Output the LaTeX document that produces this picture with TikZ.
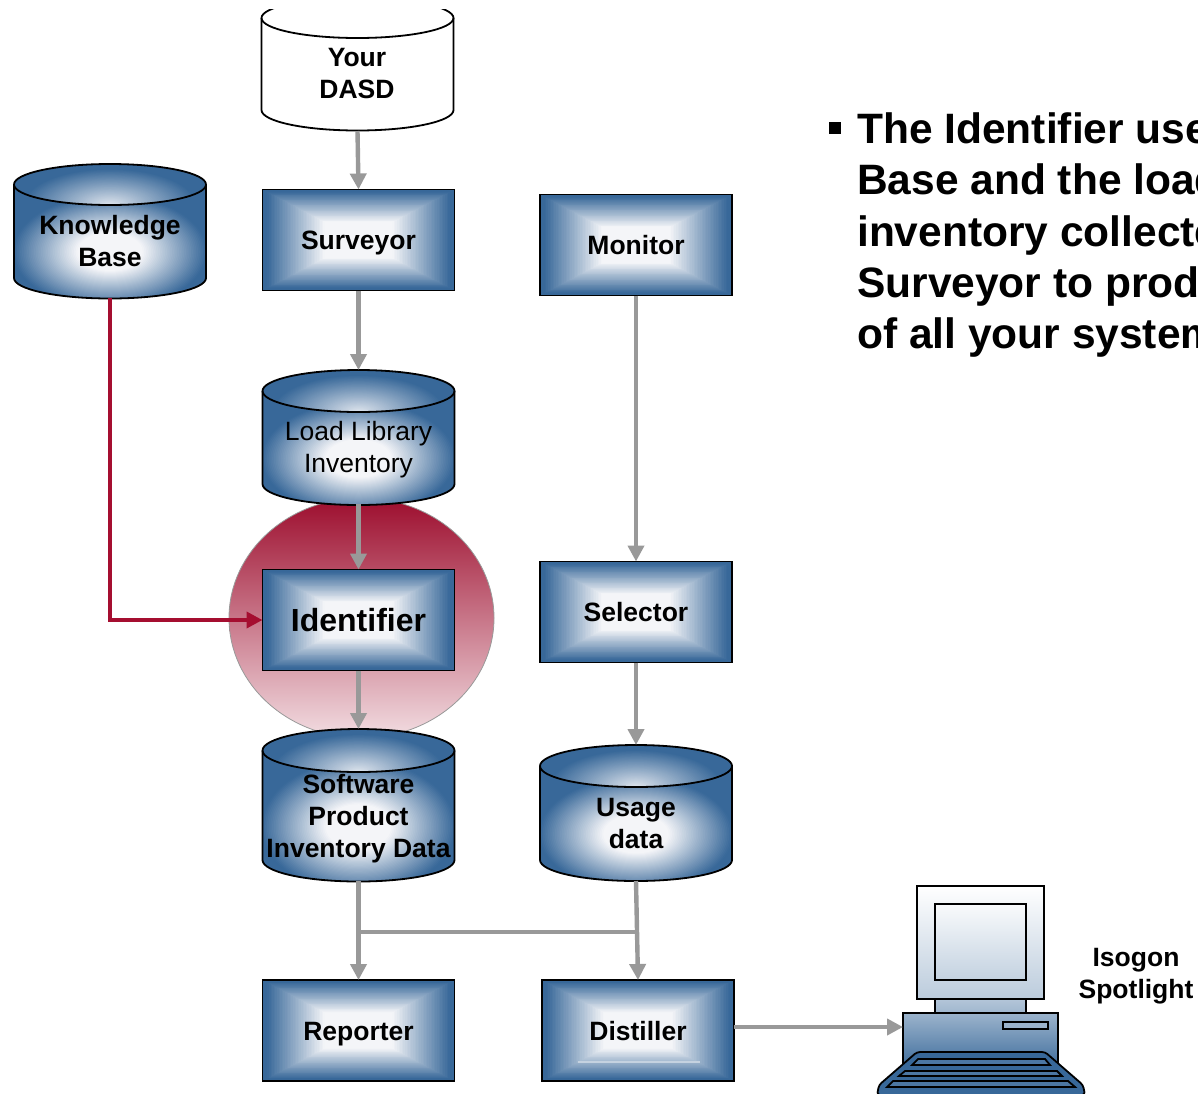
\documentclass[tikz,border=0pt]{standalone}
\usepackage{fontspec}
\setmainfont{Liberation Sans}
\usetikzlibrary{arrows.meta,shapes.geometric}
\definecolor{bbase}{HTML}{386899}
\definecolor{blite}{HTML}{F4F5F8}
\definecolor{flowgray}{HTML}{999999}
\definecolor{flowred}{HTML}{A50E30}
\newcommand\gradbox[4]{%
  \fill[bbase] (#1,#2) rectangle (#3,#4);
  \foreach \i in {1,...,60}{%
    \pgfmathsetmacro\sc{1-\i/60}
    \pgfmathsetmacro\mx{max(0,min(100,100*(\sc-0.36)/0.60))}
    \pgfmathsetmacro\cxx{(#1+#3)/2}
    \pgfmathsetmacro\cyy{(#2+#4)/2}
    \pgfmathsetmacro\hw{(#3-#1)/2*\sc}
    \pgfmathsetmacro\hh{(#4-#2)/2*\sc}
    \fill[bbase!\mx!blite] (\cxx-\hw,\cyy-\hh) rectangle (\cxx+\hw,\cyy+\hh);
  }%
}
% x1 x2 ycentre ry yside
\newcommand\gradcyl[5]{%
  \pgfmathsetmacro\rxx{(#2-#1)/2}
  \pgfmathsetmacro\cxx{(#1+#2)/2}
  \begin{scope}
    \clip (#1,#3) -- (#1,#5) arc[start angle=180,end angle=0,x radius=\rxx,y radius=#4] -- (#2,#3) -- cycle;
    \fill[bbase] (#1,#3-#4) rectangle (#2,#5+#4);
    \foreach \i in {1,...,60}{%
      \pgfmathsetmacro\sc{1-\i/60}
      \pgfmathsetmacro\mx{max(0,min(100,100*(\sc-0.32)/0.62))}
      \pgfmathsetmacro\yy{(#3+#4+#5+#4)/2}
      \pgfmathsetmacro\ax{\rxx*1.08*\sc}
      \pgfmathsetmacro\ay{(#5+#4-#3-#4)/2*1.3*\sc}
      \fill[bbase!\mx!blite] (\cxx,\yy) ellipse[x radius=\ax,y radius=\ay];
    }
  \end{scope}
  \begin{scope}
    \clip (\cxx,#3) ellipse[x radius=\rxx,y radius=#4];
    \fill[bbase] (#1,#3-#4) rectangle (#2,#3+#4);
    \foreach \i in {1,...,60}{%
      \pgfmathsetmacro\sc{1-\i/60}
      \pgfmathsetmacro\mx{max(0,min(100,100*(\sc-0.04)/0.8))}
      \pgfmathsetmacro\ax{\rxx*1.08*\sc}
      \pgfmathsetmacro\ay{#4*2.1*\sc}
      \fill[bbase!\mx!blite!85!bbase] (\cxx,#3+#4) ellipse[x radius=\ax,y radius=\ay];
    }
  \end{scope}
  \draw[cylline] (#1,#3) -- (#1,#5) arc[start angle=180,end angle=0,x radius=\rxx,y radius=#4] -- (#2,#3);
  \draw[cylline] (\cxx,#3) ellipse[x radius=\rxx,y radius=#4];
}
\tikzset{
  cylline/.style={draw=black,line width=1.8pt},
  boxnode/.style={draw=black,line width=1.8pt,minimum width=192pt,minimum height=101pt,inner sep=0pt,outer sep=0pt,font=\bfseries\fontsize{26.5}{32}\selectfont,text height=22pt,text depth=3pt},
  anchorbox/.style={inner sep=0pt,outer sep=0pt,minimum width=192pt},
  lbl/.style={inner sep=0pt,font=\bfseries\fontsize{26.5}{32}\selectfont,align=center},
  lblreg/.style={inner sep=0pt,font=\fontsize{26.5}{32}\selectfont,align=center},
  flow/.style={draw=flowgray,line width=4.4pt,-{Triangle[length=16pt,width=16pt]}},
  flowplain/.style={draw=flowgray,line width=3.8pt},
  redflow/.style={draw=flowred,line width=3.8pt,-{Triangle[length=16pt,width=16pt]}},
  pcline/.style={draw=black,line width=1.8pt},
}
\begin{document}
\begin{tikzpicture}[x=1pt,y=-1pt]
\useasboundingbox (0,0) rectangle (1198,1093);
\fill[white] (0,0) rectangle (1198,1093);

% highlight disc
\node[ellipse,minimum width=265pt,minimum height=240pt,inner sep=0pt,draw=black!40,line width=0.8pt,top color=flowred!95!black,bottom color=flowred!14!white] (halo) at (361.5,618) {};

% Your DASD
\begin{scope}
  \clip (0,9) rectangle (1198,1093);
  \fill[white] (261.5,18) -- (261.5,110) arc[start angle=180,end angle=0,x radius=96,y radius=20.5] -- (453.5,18) -- cycle;
  \draw[cylline] (261.5,18) -- (261.5,110) arc[start angle=180,end angle=0,x radius=96,y radius=20.5] -- (453.5,18);
  \draw[cylline] (357.5,18) ellipse[x radius=96,y radius=20];
\end{scope}
\node[anchorbox,minimum height=131pt] (dasd) at (357.5,65.5) {};
\node[lbl] (dasdt) at (357,73.5) {Your\\DASD};

% Knowledge Base
\gradcyl{14}{206}{184.5}{20.5}{278}
\node[anchorbox,minimum height=134pt] (kb) at (110,231) {};
\node[lbl] (kbt) at (110,241.5) {Knowledge\\Base};

% Load Library
\gradcyl{262.5}{454.5}{391}{21}{484}
\node[anchorbox,minimum height=134pt] (lib) at (358.5,437) {};
\node[lblreg] (libt) at (358.5,450) {Load Library\\Inventory};

% Software
\gradcyl{262.5}{454.5}{750.5}{21.5}{860}
\node[anchorbox,minimum height=152pt] (spi) at (358.5,805) {};

% Usage
\gradcyl{540}{732}{766}{21}{860}
\node[anchorbox,minimum height=136pt] (usg) at (636,813) {};
\node[lbl] (usgt) at (636,823) {Usage\\data};

% Boxes
\gradbox{262.5}{189.5}{454.5}{290.5}
\node[boxnode] (sur) at (358.5,240) {Surveyor};
\gradbox{540}{194.5}{732}{295.5}
\node[boxnode] (mon) at (636,245) {Monitor};
\gradbox{262.5}{569.5}{454.5}{670.5}
\node[boxnode,font=\bfseries\fontsize{32}{38}\selectfont,text height=26pt,text depth=3pt] (idf) at (358.5,620) {Identifier};
\gradbox{540}{561.5}{732}{662.5}
\node[boxnode] (sel) at (636,612) {Selector};
\gradbox{262.5}{980}{454.5}{1081}
\node[boxnode] (rep) at (358.5,1030.5) {Reporter};
\gradbox{542}{980}{734}{1081}
\draw[blite!75!bbase,line width=1.5pt] (578,1062) -- (700,1062);
\node[boxnode] (dis) at (638,1030.5) {Distiller};

% Computer
\shade[top color=white,bottom color=white!66!bbase,pcline] (917,886) rectangle (1044,999);
\shade[top color=white!97!bbase,bottom color=white!70!bbase,pcline] (935,904) rectangle (1026,980);
\shade[top color=white!62!bbase,bottom color=white!52!bbase,pcline] (935,999) rectangle (1026,1013);
\shade[top color=white!50!bbase,bottom color=white!5!bbase,pcline] (903,1013) rectangle (1058,1066);
\fill[white!50!bbase,pcline] (1003,1022) rectangle (1048,1029);
\fill[bbase,pcline,rounded corners=3pt] (917,1052) -- (1045,1052) -- (1083,1085) to (1085,1095) -- (877,1095) to (879,1085) -- cycle;
\fill[white!10!bbase,pcline] (918,1059) -- (1045,1059) -- (1050,1065) -- (912,1065) -- cycle;
\fill[white!10!bbase,pcline] (905,1071) -- (1057,1071) -- (1062,1076) -- (899,1076) -- cycle;
\fill[white!10!bbase,pcline] (893,1081) -- (1068,1081) -- (1075,1087) -- (887,1087) -- cycle;
\node[inner sep=0pt,outer sep=0pt,minimum width=155pt,minimum height=53pt] (pc) at (980.5,1039.5) {};
\node[lbl] (isg) at (1136,976) {Isogon\\Spotlight};

% Connectors
\draw[flow] (dasd.south) -- (sur.north);
\draw[flow] (sur.south) -- (lib.north);
\draw[flow] (lib.south) -- (idf.north);
\draw[flow] (idf.south) -- (spi.north);
\draw[flow] (mon.south) -- (sel.north);
\draw[flow] (sel.south) -- (usg.north);
\draw[flow] (spi.south) -- (rep.north);
\draw[flow] (usg.south) -- (dis.north);
\coordinate (jl) at (358.5,932);
\coordinate (jr) at (636.5,932);
\draw[flowplain] (jl) -- (jr);
\draw[flow] (dis.east |- 0,1027) -- (pc.west |- 0,1027);
\draw[redflow] (kb.south) |- (idf.west);

% Cylinder text over connectors
\node[lbl] (spit) at (358.5,819) {Software\\Product\\Inventory Data};

% Bullet text, cut by the page edge
\node[fill=black,minimum size=12pt,inner sep=0pt] (bul) at (835,128) {};
\begin{scope}
  \clip (845,90) rectangle (1198,370);
  \node[inner sep=0pt,anchor=north west,align=left,font=\bfseries\fontsize{42.5}{51.3}\selectfont] (bt) at (857,112.5) {The Identifier use\\Base and the load\\inventory collected\\Surveyor to prod\\of all your system};
\end{scope}
\end{tikzpicture}
\end{document}
